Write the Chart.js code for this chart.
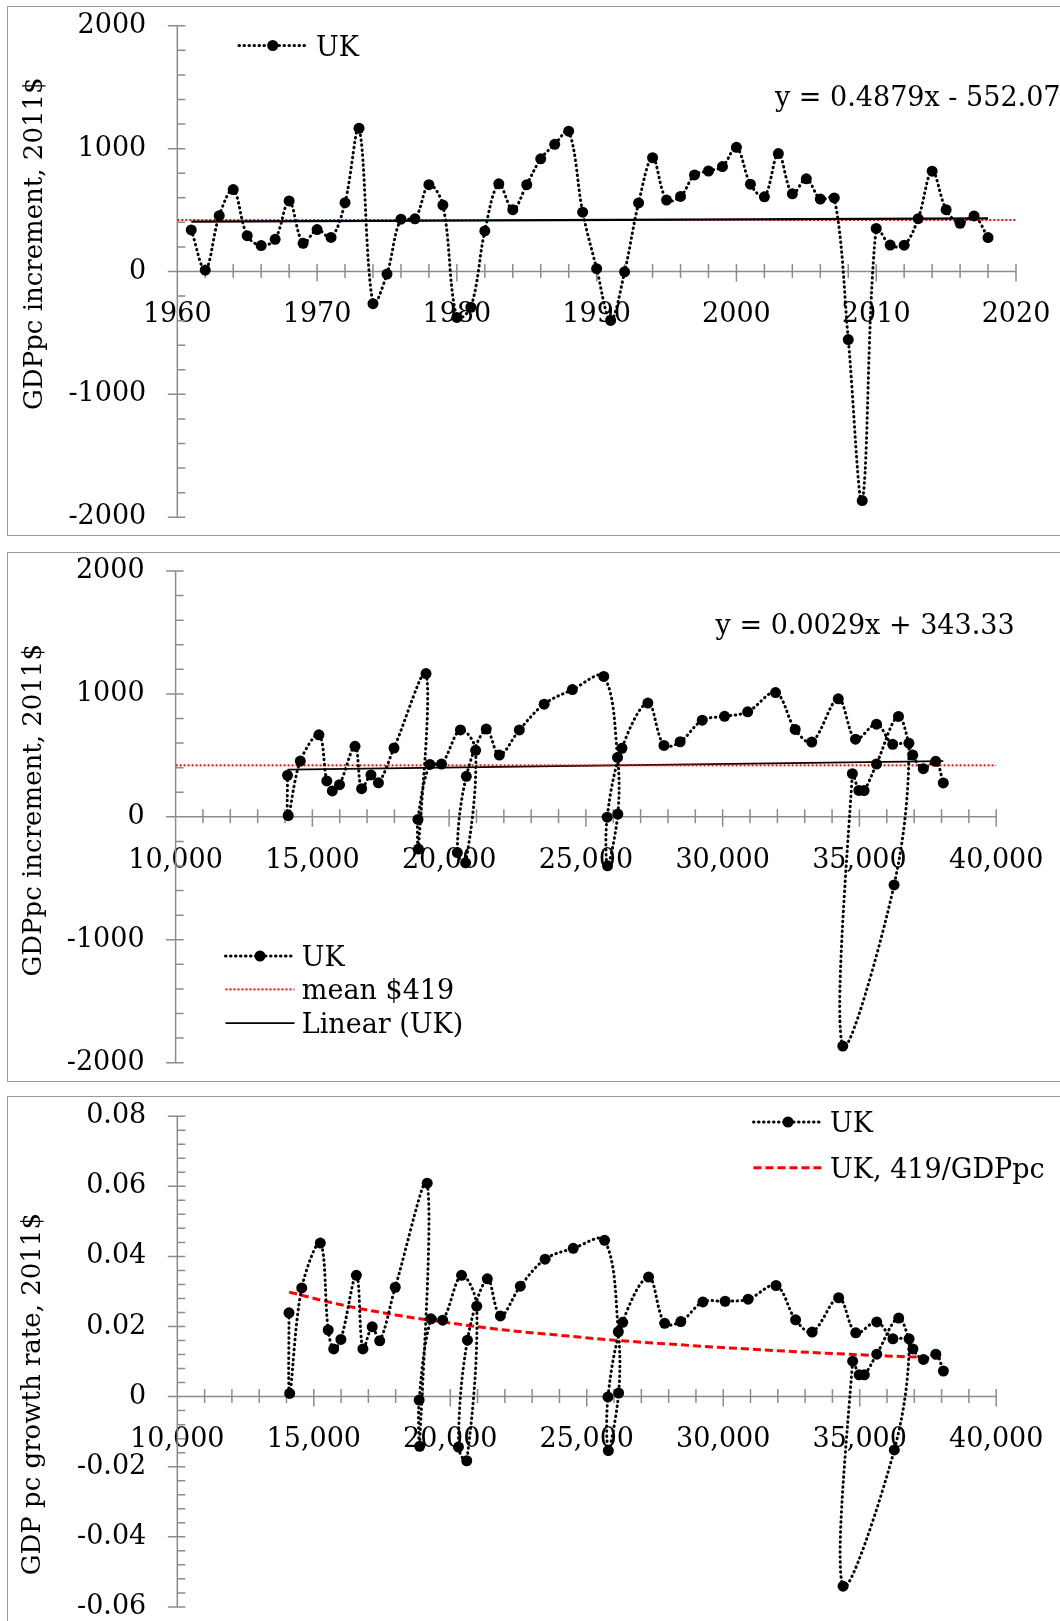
<!DOCTYPE html>
<html>
<head>
<meta charset="utf-8">
<script src="https://cdn.jsdelivr.net/npm/chart.js@4.4.1/dist/chart.umd.min.js"></script>
<style>
  html, body { margin: 0; padding: 0; background: #fff; overflow: hidden; width: 1060px; height: 1621px; }
  .box { position: absolute; left: 7px; width: 1100px; border: 1px solid #9a9a9a; }
  canvas { position: absolute; left: 0; }
</style>
</head>
<body>
<div class="box" style="top:6px;height:528px"></div>
<div class="box" style="top:552px;height:528px"></div>
<div class="box" style="top:1096px;height:600px"></div>
<canvas id="c1" width="1060" height="540" style="top:0px"></canvas>
<canvas id="c2" width="1060" height="545" style="top:540px"></canvas>
<canvas id="c3" width="1060" height="560" style="top:1085px"></canvas>
<script>
// UK, 1961-2018
const years = [1961, 1962, 1963, 1964, 1965, 1966, 1967, 1968, 1969, 1970,
  1971, 1972, 1973, 1974, 1975, 1976, 1977, 1978, 1979, 1980,
  1981, 1982, 1983, 1984, 1985, 1986, 1987, 1988, 1989, 1990,
  1991, 1992, 1993, 1994, 1995, 1996, 1997, 1998, 1999, 2000,
  2001, 2002, 2003, 2004, 2005, 2006, 2007, 2008, 2009, 2010,
  2011, 2012, 2013, 2014, 2015, 2016, 2017, 2018];

// GDP per capita increment, 2011$
const increment = [338, 11, 454, 667, 292, 211, 262, 574, 229, 341,
  277, 560, 1166, -262, -21, 426, 429, 707, 541, -374,
  -291, 330, 714, 503, 707, 917, 1035, 1142, 483, 23,
  -398, -3, 558, 926, 581, 611, 786, 818, 854, 1011,
  711, 608, 960, 632, 754, 590, 599, -554, -1865, 351,
  215, 214, 430, 817, 503, 392, 452, 276];

// GDP per capita level, 2011$
const gdppc = [14092, 14117, 14559, 15239, 15528, 15729, 15993, 16560, 16800, 17141,
  17415, 17985, 19155, 18878, 18860, 19294, 19722, 20413, 20969, 20603,
  20300, 20629, 21357, 21836, 22567, 23474, 24505, 25653, 26157, 26168,
  25791, 25777, 26318, 27265, 27854, 28446, 29254, 30069, 30914, 31934,
  32651, 33258, 34227, 34856, 35624, 36216, 36809, 36267, 34391, 34742,
  34980, 35170, 35624, 36428, 36949, 37335, 37788, 38066];

// GDP per capita growth rate
const growth = [0.0239, 0.0009, 0.0310, 0.0438, 0.0190, 0.0136, 0.0163, 0.0346, 0.0136, 0.0199,
  0.0159, 0.0312, 0.0609, -0.0142, -0.0010, 0.0222, 0.0218, 0.0346, 0.0258, -0.0183,
  -0.0144, 0.0161, 0.0336, 0.0230, 0.0315, 0.0392, 0.0423, 0.0446, 0.0185, 0.0010,
  -0.0154, -0.0001, 0.0212, 0.0341, 0.0209, 0.0214, 0.0270, 0.0272, 0.0278, 0.0317,
  0.0219, 0.0184, 0.0282, 0.0182, 0.0213, 0.0165, 0.0165, -0.0152, -0.0541, 0.0101,
  0.0062, 0.0062, 0.0121, 0.0224, 0.0136, 0.0106, 0.0121, 0.0073];

// trend lines, mean line, 419/GDPpc curve
const trend1X = [1961, 2018], trend1Y = [406, 432];
const trend2X = [14092, 38066], trend2Y = [384, 453];
const mean1X = [1960, 2020], mean2X = [10000, 40000], meanY = [419, 419];
const curveX = [14100, 16000, 18000, 20000, 22000, 24000, 26000, 28000, 30000, 32000, 34000, 36000, 38100];
const curveY = [0.0298, 0.0262, 0.0233, 0.0210, 0.0190, 0.0175, 0.0161, 0.0150, 0.0140, 0.0131, 0.0123, 0.0116, 0.0110];

const TEXT_FONT = '27px "DejaVu Serif"';
const TITLE_FONT = '26px "DejaVu Serif"';
Chart.defaults.font.family = '"DejaVu Serif"';
Chart.defaults.font.size = 27;
Chart.defaults.color = '#000';

const pts = (xs, ys) => xs.map((x, i) => ({x: x, y: ys[i]}));

// Excel style axes: line through zero, crossing major ticks, minor ticks
const xlAxes = {
  id: 'xlAxes',
  beforeDatasetsDraw(chart, args, o) {
    const ctx = chart.ctx, xs = chart.scales.x, ys = chart.scales.y;
    const y0 = ys.getPixelForValue(0), x0 = xs.getPixelForValue(xs.min);
    ctx.save();
    ctx.strokeStyle = '#8c8c8c';
    ctx.lineWidth = 1.5;
    ctx.beginPath();
    ctx.moveTo(xs.left, y0); ctx.lineTo(xs.right, y0);
    ctx.moveTo(x0, ys.top); ctx.lineTo(x0, ys.bottom);
    let n = Math.round((xs.max - xs.min) / o.xMinor), r = Math.round(o.xMajor / o.xMinor);
    for (let i = 0; i <= n; i++) {
      const px = xs.getPixelForValue(xs.min + i * o.xMinor);
      ctx.moveTo(px, y0 - 7.5); ctx.lineTo(px, y0 + (i % r === 0 ? 10 : 6.5));
    }
    n = Math.round((ys.max - ys.min) / o.yMinor); r = Math.round(o.yMajor / o.yMinor);
    for (let i = 0; i <= n; i++) {
      const py = ys.getPixelForValue(ys.min + i * o.yMinor);
      ctx.moveTo(i % r === 0 ? x0 - 9.5 : x0, py); ctx.lineTo(x0 + 8, py);
    }
    ctx.stroke();
    ctx.restore();
  }
};

// axis title, trend equation, legend inside plot
const decor = {
  id: 'decor',
  afterDraw(chart, args, o) {
    const ctx = chart.ctx;
    ctx.save();
    ctx.fillStyle = '#000';
    ctx.save();
    ctx.font = TITLE_FONT;
    ctx.translate(o.title.x, o.title.y);
    ctx.rotate(-Math.PI / 2);
    ctx.textAlign = 'center';
    ctx.textBaseline = 'alphabetic';
    ctx.fillText(o.title.text, 0, 0);
    ctx.restore();
    ctx.font = TEXT_FONT;
    ctx.textAlign = 'left';
    ctx.textBaseline = 'alphabetic';
    if (o.eq) ctx.fillText(o.eq.text, o.eq.x, o.eq.y);
    o.legend.forEach(it => {
      const ds = chart.data.datasets[it.ds];
      ctx.save();
      ctx.strokeStyle = ds.borderColor;
      ctx.lineWidth = ds.borderWidth;
      ctx.setLineDash(ds.borderDash || []);
      ctx.lineCap = ds.borderCapStyle || 'butt';
      ctx.beginPath();
      ctx.moveTo(it.x, it.y); ctx.lineTo(it.x + it.w, it.y);
      ctx.stroke();
      if (ds.pointRadius) {
        ctx.fillStyle = ds.pointBackgroundColor;
        ctx.beginPath();
        ctx.arc(it.x + it.w / 2, it.y, ds.pointRadius, 0, 2 * Math.PI);
        ctx.fill();
      }
      ctx.restore();
      ctx.fillText(ds.label, it.x + it.w + it.gap, it.y + 10);
    });
    ctx.restore();
  }
};

function ukSeries(xs, ys) {
  return {
    label: 'UK', data: pts(xs, ys), showLine: true,
    borderColor: '#000', borderWidth: 3, borderDash: [0.5, 4.5], borderCapStyle: 'round',
    tension: 0.35, pointRadius: 5.5, pointBackgroundColor: '#000', pointBorderWidth: 0
  };
}
function meanSeries(xs) {
  return {
    label: 'mean $419', data: pts(xs, meanY), showLine: true,
    borderColor: '#ff0000', borderWidth: 2, borderDash: [2, 2], pointRadius: 0
  };
}
function trendSeries(xs, ys, w) {
  return {
    label: 'Linear (UK)', data: pts(xs, ys), showLine: true,
    borderColor: '#000', borderWidth: w, pointRadius: 0
  };
}

function options(c) {
  return {
    responsive: false,
    animation: false,
    layout: {padding: c.pad},
    plugins: {legend: {display: false}, tooltip: {enabled: false}, xlAxes: c.axes, decor: c.decor},
    scales: {
      x: {
        type: 'linear', position: {y: 0}, min: c.xMin, max: c.xMax,
        grid: {display: false, drawTicks: false}, border: {display: false},
        ticks: {stepSize: c.xStep, autoSkip: false, maxRotation: 0, padding: 27.5, callback: c.xFmt},
        afterFit: s => { s.paddingLeft = 0; s.paddingRight = 0; }
      },
      y: {
        type: 'linear', min: c.yMin, max: c.yMax,
        grid: {display: false, drawTicks: false}, border: {display: false},
        ticks: {stepSize: c.yStep, padding: 31, callback: c.yFmt},
        afterFit: s => { s.width = c.yWidth; s.paddingTop = 0; s.paddingBottom = 0; }
      }
    }
  };
}

const plain = v => String(v);
const thousands = v => v.toLocaleString('en-US');
const rate = v => Math.abs(v) < 1e-9 ? '0' : v.toFixed(2);

new Chart(document.getElementById('c1'), {
  type: 'scatter',
  data: {datasets: [ukSeries(years, increment), trendSeries(trend1X, trend1Y, 2.2), meanSeries(mean1X)]},
  options: options({
    pad: {top: 25.8, bottom: 22.8, left: 0, right: 44},
    xMin: 1960, xMax: 2020, xStep: 10, xFmt: plain,
    yMin: -2000, yMax: 2000, yStep: 1000, yFmt: plain, yWidth: 177.3,
    axes: {xMinor: 2, xMajor: 10, yMinor: 200, yMajor: 1000},
    decor: {
      title: {text: 'GDPpc increment, 2011$', x: 41.5, y: 243.7},
      eq: {text: 'y = 0.4879x - 552.07', x: 775, y: 106},
      legend: [{ds: 0, x: 239, y: 45.5, w: 67.5, gap: 9.5}]
    }
  }),
  plugins: [xlAxes, decor]
});

new Chart(document.getElementById('c2'), {
  type: 'scatter',
  data: {datasets: [ukSeries(gdppc, increment), meanSeries(mean2X), trendSeries(trend2X, trend2Y, 1.7)]},
  options: options({
    pad: {top: 31, bottom: 22.3, left: 0, right: 63.8},
    xMin: 10000, xMax: 40000, xStep: 5000, xFmt: thousands,
    yMin: -2000, yMax: 2000, yStep: 1000, yFmt: plain, yWidth: 175.6,
    axes: {xMinor: 1000, xMajor: 5000, yMinor: 200, yMajor: 1000},
    decor: {
      title: {text: 'GDPpc increment, 2011$', x: 40.5, y: 270.3},
      eq: {text: 'y = 0.0029x + 343.33', x: 715.6, y: 93.7},
      legend: [
        {ds: 0, x: 225.5, y: 416, w: 69, gap: 7.3},
        {ds: 1, x: 225.5, y: 449.4, w: 69, gap: 7.3},
        {ds: 2, x: 225.5, y: 483.1, w: 69, gap: 7.3}
      ]
    }
  }),
  plugins: [xlAxes, decor]
});

new Chart(document.getElementById('c3'), {
  type: 'scatter',
  data: {datasets: [
    ukSeries(gdppc, growth),
    {
      label: 'UK, 419/GDPpc', data: pts(curveX, curveY), showLine: true,
      borderColor: '#ff0000', borderWidth: 3, borderDash: [8, 4],
      tension: 0.4, cubicInterpolationMode: 'monotone', pointRadius: 0
    }
  ]},
  options: options({
    pad: {top: 31.2, bottom: 38.1, left: 0, right: 63.8},
    xMin: 10000, xMax: 40000, xStep: 5000, xFmt: thousands,
    yMin: -0.06, yMax: 0.08, yStep: 0.02, yFmt: rate, yWidth: 177.3,
    axes: {xMinor: 1000, xMajor: 5000, yMinor: 0.004, yMajor: 0.02},
    decor: {
      title: {text: 'GDP pc growth rate, 2011$', x: 40, y: 309.2},
      legend: [
        {ds: 0, x: 753.5, y: 37, w: 69, gap: 7.6},
        {ds: 1, x: 753.5, y: 82.8, w: 69, gap: 7.6}
      ]
    }
  }),
  plugins: [xlAxes, decor]
});
</script>
</body>
</html>
